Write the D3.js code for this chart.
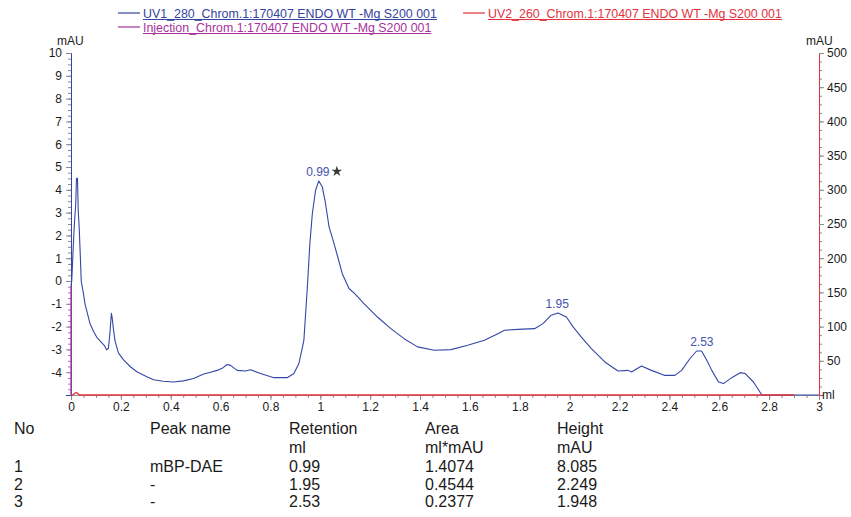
<!DOCTYPE html>
<html><head><meta charset="utf-8">
<script src="https://cdn.jsdelivr.net/npm/d3@7"></script>
<style>
body{margin:0;background:#fff}
svg{display:block;font-family:"Liberation Sans",Arial,sans-serif}
</style>
</head><body>
<svg id="chart" width="851" height="517"></svg>
<script>
// ---------- data ----------
const uv1X = [0, 0.003, 0.009, 0.013, 0.019, 0.022, 0.026, 0.029, 0.033, 0.037, 0.041, 0.05, 0.056, 0.063, 0.076, 0.09, 0.103, 0.123, 0.135, 0.143, 0.15, 0.156, 0.162, 0.165, 0.17, 0.176, 0.19, 0.21, 0.237, 0.264, 0.304, 0.331, 0.37, 0.411, 0.45, 0.492, 0.532, 0.56, 0.586, 0.61, 0.626, 0.64, 0.666, 0.70, 0.72, 0.76, 0.814, 0.867, 0.894, 0.914, 0.934, 0.948, 0.958, 0.968, 0.981, 0.994, 1.008, 1.021, 1.035, 1.055, 1.068, 1.088, 1.115, 1.142, 1.175, 1.229, 1.283, 1.336, 1.39, 1.457, 1.524, 1.591, 1.658, 1.712, 1.739, 1.792, 1.859, 1.893, 1.926, 1.953, 1.987, 2.013, 2.047, 2.087, 2.141, 2.194, 2.235, 2.248, 2.288, 2.328, 2.382, 2.422, 2.449, 2.482, 2.509, 2.529, 2.55, 2.57, 2.597, 2.617, 2.65, 2.684, 2.704, 2.737, 2.771, 2.8, 2.9, 3.0];
const uv1Y = [-0.2, 0.0, 1.5, 2.4, 3.4, 4.5, 4.5, 3.1, 2.3, 1.2, 0.0, -0.55, -1.0, -1.3, -1.86, -2.2, -2.46, -2.7, -2.85, -3.02, -2.95, -2.3, -1.42, -1.6, -2.1, -2.6, -3.15, -3.45, -3.75, -3.98, -4.2, -4.33, -4.4, -4.43, -4.38, -4.28, -4.08, -4.0, -3.92, -3.8, -3.66, -3.7, -3.92, -3.95, -3.89, -4.06, -4.24, -4.24, -4.06, -3.62, -2.6, -0.26, 1.64, 2.96, 3.98, 4.39, 4.12, 3.39, 2.37, 1.64, 1.13, 0.32, -0.33, -0.6, -0.99, -1.58, -2.09, -2.53, -2.89, -3.04, -3.01, -2.82, -2.6, -2.31, -2.16, -2.12, -2.09, -1.87, -1.5, -1.4, -1.58, -2.0, -2.46, -2.97, -3.55, -3.95, -3.92, -3.99, -3.73, -3.92, -4.14, -4.14, -3.92, -3.41, -3.07, -3.07, -3.48, -3.92, -4.43, -4.5, -4.24, -4.02, -4.06, -4.43, -5.0, -5.4, -5.6, -5.6];
const uv2X = [0, 0.008, 0.018, 0.024, 0.034, 0.5, 1.0, 1.5, 2.0, 2.5, 2.9];
const uv2Y = [0, 0, 3.5, 3.0, 0, 0, 0, 0, 0, 0, 0];
const injectionX = [0, 0];
const injectionY = [-5, -0.2];

const xTicks = [0, 0.2, 0.4, 0.6, 0.8, 1, 1.2, 1.4, 1.6, 1.8, 2, 2.2, 2.4, 2.6, 2.8, 3];
const xTickLabels = ["0", "0.2", "0.4", "0.6", "0.8", "1", "1.2", "1.4", "1.6", "1.8", "2", "2.2", "2.4", "2.6", "2.8", "3"];
const leftTicks = [10, 9, 8, 7, 6, 5, 4, 3, 2, 1, 0, -1, -2, -3, -4];
const leftTickLabels = ["10", "9", "8", "7", "6", "5", "4", "3", "2", "1", "0", "-1", "-2", "-3", "-4"];
const rightTicks = [500, 450, 400, 350, 300, 250, 200, 150, 100, 50];
const rightTickLabels = ["500", "450", "400", "350", "300", "250", "200", "150", "100", "50"];

const peakRetention = [0.99, 1.95, 2.53];
const peakLabels = ["0.99", "1.95", "2.53"];
const peakStar = [true, false, false];

const legendNames = ["UV1_280_Chrom.1:170407 ENDO WT -Mg S200 001", "Injection_Chrom.1:170407 ENDO WT -Mg S200 001", "UV2_260_Chrom.1:170407 ENDO WT -Mg S200 001"];
const legendColors = ["#34449e", "#a8329c", "#e3323c"];

const tableHeader = ["No", "Peak name", "Retention", "Area", "Height"];
const tableUnits = ["", "", "ml", "ml*mAU", "mAU"];
const tableNo = ["1", "2", "3"];
const tableName = ["mBP-DAE", "-", "-"];
const tableRetention = ["0.99", "1.95", "2.53"];
const tableArea = ["1.4074", "0.4544", "0.2377"];
const tableHeight = ["8.085", "2.249", "1.948"];

// ---------- drawing ----------
const svg = d3.select("#chart");
const C1 = "#3446a8", CINJ = "#b0359f", C2 = "#e3323c", TXT = "#1a1a1a", TICK = "#8a8a8a";

const x = d3.scaleLinear([0, 3], [71, 819]);
const yL = d3.scaleLinear([-5, 10], [395, 53]).clamp(true);
const yR = d3.scaleLinear([0, 500], [395, 53]).clamp(true);

// minor ticks
const gMinor = svg.append("g");
gMinor.append("g").attr("transform", `translate(0,${yL.range()[0]})`)
  .call(d3.axisBottom(x).tickValues(d3.range(0, 3.001, 0.05)).tickSize(3).tickFormat(""));
gMinor.append("g").attr("transform", `translate(${x.range()[0]},0)`)
  .call(d3.axisLeft(yL).tickValues(d3.range(-5, 10.001, 0.25)).tickSize(3).tickFormat(""));
gMinor.append("g").attr("transform", `translate(${x.range()[1]},0)`)
  .call(d3.axisRight(yR).tickValues(d3.range(0, 500.001, 12.5)).tickSize(3).tickFormat(""));
gMinor.selectAll(".domain").remove();
gMinor.selectAll("line").attr("stroke", TICK);

// major axes
const gx = svg.append("g").attr("transform", `translate(0,${yL.range()[0]})`)
  .call(d3.axisBottom(x).tickValues(xTicks).tickSize(5).tickPadding(2)
    .tickFormat((d, i) => xTickLabels[i]));
const gl = svg.append("g").attr("transform", `translate(${x.range()[0]},0)`)
  .call(d3.axisLeft(yL).tickValues(leftTicks).tickSize(5).tickPadding(4)
    .tickFormat((d, i) => leftTickLabels[i]));
const gr = svg.append("g").attr("transform", `translate(${x.range()[1]},0)`)
  .call(d3.axisRight(yR).tickValues(rightTicks).tickSize(5).tickPadding(3)
    .tickFormat((d, i) => rightTickLabels[i]));
[gx, gl, gr].forEach(g => {
  g.selectAll("text").attr("font-size", 12).attr("fill", TXT).attr("font-family", "'Liberation Sans',Arial,sans-serif");
  g.selectAll(".tick line").attr("stroke", TICK);
});
gx.select(".domain").attr("stroke", "#999");
gl.select(".domain").attr("stroke", C1);
gr.select(".domain").attr("stroke", C2);

// axis units
svg.append("text").attr("x", x.range()[0] - 14).attr("y", yL(10) - 8)
  .attr("font-size", 12).attr("fill", TXT).text("mAU");
svg.append("text").attr("x", x.range()[1] - 13).attr("y", yR(500) - 8)
  .attr("font-size", 12).attr("fill", TXT).text("mAU");
svg.append("text").attr("x", x.range()[1] + 3).attr("y", yL(-5) + 4)
  .attr("font-size", 12).attr("fill", TXT).text("ml");

// traces
const uv1 = uv1X.map((d, i) => [d, uv1Y[i]]);
const uv2 = uv2X.map((d, i) => [d, uv2Y[i]]);
const inj = injectionX.map((d, i) => [d, injectionY[i]]);

svg.append("path").datum(uv1)
  .attr("d", d3.line().x(d => x(d[0])).y(d => yL(d[1])))
  .attr("fill", "none").attr("stroke", C1).attr("stroke-width", 1.1).attr("stroke-linejoin", "round");
svg.append("path").datum(uv2)
  .attr("d", d3.line().x(d => x(d[0])).y(d => yR(d[1])))
  .attr("fill", "none").attr("stroke", C2).attr("stroke-width", 1.3);
svg.append("path").datum(inj)
  .attr("d", d3.line().x(d => x(d[0])).y(d => yL(d[1])))
  .attr("fill", "none").attr("stroke", CINJ).attr("stroke-width", 1.3);

// peak labels
peakRetention.forEach((r, i) => {
  const near = uv1.filter(d => Math.abs(d[0] - r) < 0.03);
  const top = d3.max(near, d => d[1]);
  const px = x(r), py = yL(top) - 5;
  svg.append("text").attr("x", px).attr("y", py).attr("text-anchor", "middle")
    .attr("font-size", 12).attr("fill", "#4254b0").text(peakLabels[i]);
  if (peakStar[i]) {
    svg.append("path").attr("d", d3.symbol(d3.symbolStar, 36)())
      .attr("transform", `translate(${px + 19},${py - 4.5})`).attr("fill", "#3a3a3a");
  }
});

// legend
const legendPos = [[118, 13], [118, 27], [463, 13]];
legendNames.forEach((name, i) => {
  const [lx, ly] = legendPos[i];
  const g = svg.append("g");
  g.append("line").attr("x1", lx).attr("x2", lx + 22).attr("y1", ly).attr("y2", ly)
    .attr("stroke", legendColors[i]).attr("stroke-width", 1.2);
  const t = g.append("text").attr("x", lx + 25).attr("y", ly + 4.5)
    .attr("font-size", 12.4).attr("fill", legendColors[i]).text(name);
  const w = t.node().getComputedTextLength();
  g.append("line").attr("x1", lx + 25).attr("x2", lx + 25 + w)
    .attr("y1", ly + 6.5).attr("y2", ly + 6.5).attr("stroke", legendColors[i]).attr("stroke-width", 1);
});

// table
const colX = [14, 150, 289, 425, 557];
const rowY = [434, 453, 472, 489.5, 507];
const tableRows = [tableHeader, tableUnits].concat(
  tableNo.map((n, i) => [n, tableName[i], tableRetention[i], tableArea[i], tableHeight[i]]));
const gt = svg.append("g").attr("font-size", 16).attr("fill", TXT);
tableRows.forEach((row, r) => {
  row.forEach((cell, c) => {
    if (cell === "") return;
    gt.append("text").attr("x", colX[c]).attr("y", rowY[r]).text(cell);
  });
});
</script>
</body></html>
